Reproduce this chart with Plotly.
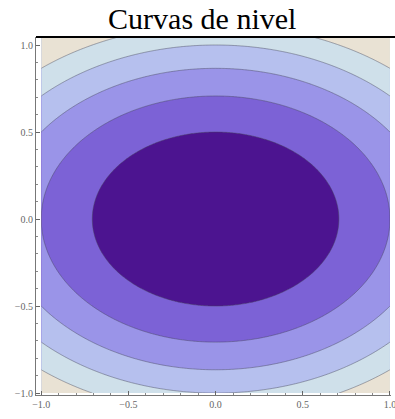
import numpy as np
import plotly.graph_objects as go

# Chart definition: contour plot of f(x, y) = x^2 + 2 y^2
title_text = "Curvas de nivel"
x_min, x_max = -1.0, 1.0
y_min, y_max = -1.0, 1.046
coef_x = 1.0
coef_y = 2.0
levels_start, levels_end, levels_step = 0.5, 2.5, 0.5
band_colors = ["#4c1490", "#7c62d6", "#9a94e8", "#b6c0ee", "#cfe0ea", "#e9e2d4"]
tick_vals = [-1.0, -0.5, 0.0, 0.5, 1.0]
tick_text = ["\u22121.0", "\u22120.5", "0.0", "0.5", "1.0"]

xs = np.linspace(x_min, x_max, 241)
ys = np.linspace(y_min, y_max, 241)
X, Y = np.meshgrid(xs, ys)
Z = coef_x * X ** 2 + coef_y * Y ** 2

n = len(band_colors)
zmin, zmax = 0.0, levels_step * n
cscale = []
for i, c in enumerate(band_colors):
    cscale.append([i / n, c])
    cscale.append([(i + 1) / n, c])

fig = go.Figure(go.Contour(
    x=xs, y=ys, z=Z,
    zmin=zmin, zmax=zmax,
    colorscale=cscale,
    showscale=False,
    contours=dict(start=levels_start, end=levels_end, size=levels_step, coloring="fill"),
    line=dict(color="rgba(70,70,90,0.45)", width=1),
    hoverinfo="skip",
))

axis_common = dict(
    tickvals=tick_vals, ticktext=tick_text,
    ticks="inside", ticklen=4, tickwidth=1, tickcolor="#666",
    showline=True, linecolor="#777", linewidth=1,
    showgrid=False, zeroline=False, automargin=False,
    ticklabeloverflow="allow",
    tickfont=dict(family="Liberation Serif", size=10, color="#666"),
    minor=dict(dtick=0.1, ticks="inside", ticklen=2, tickcolor="#888"),
)

fig.update_layout(
    width=395, height=419,
    margin=dict(l=36, r=4, t=37, b=24),
    paper_bgcolor="white", plot_bgcolor="white",
    title=dict(text=title_text, x=0.512, xanchor="center", y=1 - 18 / 419, yanchor="middle",
               font=dict(family="Liberation Serif", size=30, color="black")),
    xaxis=dict(range=[-1.03, 1.006], **axis_common),
    yaxis=dict(range=[-1.011, 1.046], **axis_common),
    shapes=[dict(type="line", xref="paper", yref="paper", x0=0, x1=1.03, y0=1, y1=1,
                 line=dict(color="black", width=2))],
)

fig.write_html("out.html",
               config={"displayModeBar": False},
               post_script="document.body.style.margin='0';document.body.style.overflow='hidden';")
